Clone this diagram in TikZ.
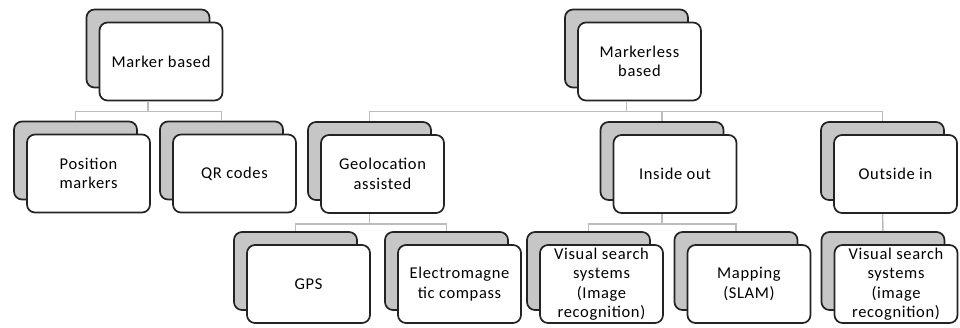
\documentclass[tikz,border=0pt]{standalone}
\usepackage{fontspec}
\setmainfont{Carlito}[LetterSpace=4]
\usetikzlibrary{positioning}
\definecolor{edgegray}{RGB}{35,35,35}
\definecolor{shadegray}{RGB}{198,198,198}
\definecolor{linkgray}{RGB}{188,188,188}
\begin{document}
\begin{tikzpicture}[x=1pt,y=-1pt,
  card/.style={draw=edgegray,line width=1.7pt,rounded corners=8pt,
    minimum width=123pt,minimum height=78pt,inner sep=0pt,align=center,
    font=\fontsize{16.5}{19.5}\selectfont},
  backcard/.style={card,fill=shadegray},
  frontcard/.style={card,fill=white},
  link/.style={draw=linkgray,line width=1.5pt}]
\useasboundingbox (0,0) rectangle (960,327);

\foreach \n/\x/\y/\t in {mb/148/48.5/Marker based,
                          ml/626.5/48.5/Markerless\\based,
                          pm/75.5/160.5/Position\\markers,
                          qr/221.5/160.5/QR codes,
                          geo/369.5/161/Geolocation\\assisted,
                          io/662/161/Inside out,
                          oi/882.5/161/Outside in,
                          gps/295.5/271/GPS,
                          em/446.5/271/Electromagne\\tic compass,
                          vsa/588.5/271/Visual search\\systems\\(Image\\recognition),
                          map/736/271/Mapping\\(SLAM),
                          vsb/883/271/Visual search\\systems\\(image\\recognition)}
{
    \node[backcard] (\n-b) at (\x,\y) {};
    \node[frontcard] (\n) at (\x+13,\y+13) {\t};
}

\draw[link] (mb-b |- mb.south) -- ++(0,10) -| (pm-b.north)
            (mb-b |- mb.south) -- ++(0,10) -| (qr-b.north);
\draw[link] (ml-b |- ml.south) -- ++(0,10) -| (geo-b.north)
            (ml-b |- ml.south) -- ++(0,10) -| (io-b.north)
            (ml-b |- ml.south) -- ++(0,10) -| (oi-b.north);
\draw[link] (geo-b |- geo.south) -- ++(0,10) -| (gps-b.north)
            (geo-b |- geo.south) -- ++(0,10) -| (em-b.north);
\draw[link] (io-b |- io.south) -- ++(0,10) -| (vsa-b.north)
            (io-b |- io.south) -- ++(0,10) -| (map-b.north);
\draw[link] (oi-b |- oi.south) -- (vsb-b.north);

\end{tikzpicture}
\end{document}
